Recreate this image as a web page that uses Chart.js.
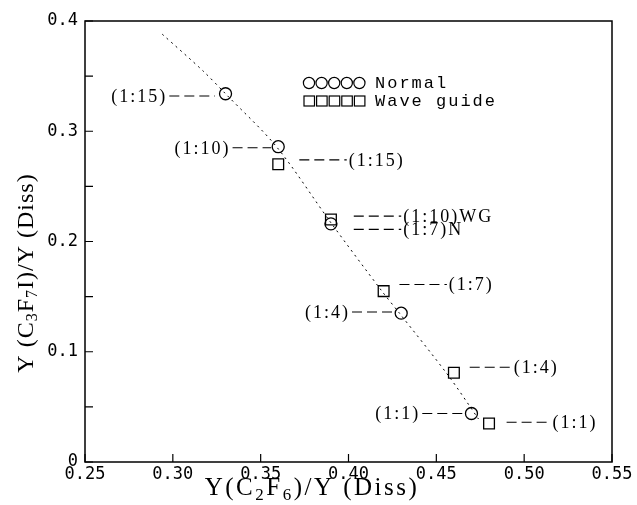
<!DOCTYPE html>
<html>
<head>
<meta charset="utf-8">
<script src="https://cdn.jsdelivr.net/npm/chart.js@4.4.1/dist/chart.umd.min.js"></script>
<style>
  html, body { margin: 0; padding: 0; background: #fff; }
  #wrap { width: 637px; height: 505px; }
</style>
</head>
<body>
<div id="wrap"><canvas id="chart"></canvas></div>
<script>
// ── data ─────────────────────────────────────────────
const xTickVals   = [0.25, 0.30, 0.35, 0.40, 0.45, 0.50, 0.55];
const xTickLabels = ['0.25', '0.30', '0.35', '0.40', '0.45', '0.50', '0.55'];
const yTickVals   = [0, 0.05, 0.1, 0.15, 0.2, 0.25, 0.3, 0.35, 0.4];
const yTickLabels = ['0', '', '0.1', '', '0.2', '', '0.3', '', '0.4'];

// Normal (circles)
const normalX      = [0.33, 0.36, 0.39, 0.43, 0.47];
const normalY      = [0.334, 0.286, 0.216, 0.135, 0.044];
const normalLabels = ['(1:15)', '(1:10)', '(1:7)N', '(1:4)', '(1:1)'];
const normalSide   = ['left', 'left', 'right', 'left', 'left'];
const normalLeadA  = [0.298, 0.334, 0.403, 0.402, 0.442];
const normalLeadB  = [0.324, 0.356, 0.430, 0.426, 0.467];
const normalTagY   = [0.332, 0.285, 0.211, 0.136, 0.044];

// Wave guide (squares)
const guideX      = [0.36, 0.39, 0.42, 0.46, 0.48];
const guideY      = [0.270, 0.220, 0.155, 0.081, 0.035];
const guideLabels = ['(1:15)', '(1:10)WG', '(1:7)', '(1:4)', '(1:1)'];
const guideSide   = ['right', 'right', 'right', 'right', 'right'];
const guideLeadA  = [0.372, 0.403, 0.429, 0.469, 0.490];
const guideLeadB  = [0.399, 0.430, 0.456, 0.493, 0.515];
const guideTagY   = [0.274, 0.223, 0.161, 0.086, 0.036];

// dotted guide curve
const fitX = [0.294, 0.317, 0.330, 0.359, 0.390, 0.419, 0.429, 0.457, 0.474];
const fitY = [0.388, 0.355, 0.334, 0.286, 0.217, 0.155, 0.135, 0.078, 0.039];

const legendNames = ['Normal', 'Wave guide'];
const xTitle = [['Y(C', 0], ['2', 1], ['F', 0], ['6', 1], [')/Y (Diss)', 0]];
const yTitle = [['Y (C', 0], ['3', 1], ['F', 0], ['7', 1], ['I)/Y (Diss)', 0]];

const pts = (xs, ys) => xs.map((x, i) => ({ x, y: ys[i] }));

// ── drawing helpers ───────────────────────────────
function richText(ctx, parts, x, y, size, spacing) {
  const big = size + 'px "Liberation Serif", "DejaVu Serif", serif';
  const small = Math.round(size * 0.68) + 'px "Liberation Serif", "DejaVu Serif", serif';
  ctx.letterSpacing = spacing + 'px';
  let w = 0;
  parts.forEach(([t, sub]) => { ctx.font = sub ? small : big; w += ctx.measureText(t).width; });
  let cx = x - w / 2;
  ctx.textAlign = 'left';
  ctx.textBaseline = 'alphabetic';
  parts.forEach(([t, sub]) => {
    ctx.font = sub ? small : big;
    ctx.fillText(t, cx, sub ? y + size * 0.18 : y);
    cx += ctx.measureText(t).width;
  });
  ctx.letterSpacing = '0px';
}

const paperPlugin = {
  id: 'paper',
  afterDraw(chart) {
    const { ctx, chartArea: a, scales: { x, y } } = chart;
    ctx.save();
    ctx.strokeStyle = '#000';
    ctx.fillStyle = '#000';

    // frame + inward ticks
    ctx.lineWidth = 1.5;
    ctx.strokeRect(a.left, a.top, a.right - a.left, a.bottom - a.top);
    ctx.lineWidth = 1.2;
    ctx.beginPath();
    xTickVals.forEach(v => {
      const px = x.getPixelForValue(v);
      ctx.moveTo(px, a.bottom); ctx.lineTo(px, a.bottom - 8);
    });
    yTickVals.forEach(v => {
      const py = y.getPixelForValue(v);
      ctx.moveTo(a.left, py); ctx.lineTo(a.left + 8, py);
    });
    ctx.stroke();

    // leaders + ratio labels
    const tags = (labels, side, la, lb, ty) => labels.forEach((txt, i) => {
      const x1 = x.getPixelForValue(la[i]);
      const x2 = x.getPixelForValue(lb[i]);
      const py = y.getPixelForValue(ty[i]);
      ctx.lineWidth = 1.1;
      ctx.setLineDash([10, 5]);
      ctx.beginPath(); ctx.moveTo(x1, py); ctx.lineTo(x2, py); ctx.stroke();
      ctx.setLineDash([]);
      ctx.font = '18px "Liberation Serif", serif';
      ctx.letterSpacing = '2px';
      ctx.textBaseline = 'middle';
      if (side[i] === 'left') { ctx.textAlign = 'right'; ctx.fillText(txt, x1 - 2, py + 1); }
      else { ctx.textAlign = 'left'; ctx.fillText(txt, x2 + 2, py + 1); }
      ctx.letterSpacing = '0px';
    });
    tags(normalLabels, normalSide, normalLeadA, normalLeadB, normalTagY);
    tags(guideLabels, guideSide, guideLeadA, guideLeadB, guideTagY);

    // legend
    const lx = a.left + 218, ly = a.top + 62;
    ctx.lineWidth = 1.2;
    for (let k = 0; k < 5; k++) {
      ctx.beginPath(); ctx.arc(lx + 6 + k * 12.6, ly, 5.6, 0, Math.PI * 2); ctx.stroke();
      ctx.strokeRect(lx + 1 + k * 12.6, ly + 18 - 5, 10.5, 10);
    }
    ctx.font = '17px "Liberation Mono", monospace';
    ctx.letterSpacing = '2px';
    ctx.textAlign = 'left';
    ctx.textBaseline = 'middle';
    ctx.fillText(legendNames[0], lx + 72, ly);
    ctx.fillText(legendNames[1], lx + 72, ly + 18);
    ctx.letterSpacing = '0px';

    // axis titles
    richText(ctx, xTitle, 312, 495, 25, 2.5);
    ctx.save();
    ctx.translate(33, 273);
    ctx.rotate(-Math.PI / 2);
    richText(ctx, yTitle, 0, 0, 24, 1);
    ctx.restore();

    ctx.restore();
  }
};

new Chart(document.getElementById('chart'), {
  type: 'scatter',
  data: {
    datasets: [
      { label: 'fit', data: pts(fitX, fitY), showLine: true, pointRadius: 0,
        borderColor: '#000', borderWidth: 1, borderDash: [2, 4], tension: 0.3, fill: false },
      { label: 'Normal', data: pts(normalX, normalY), pointStyle: 'circle', pointRadius: 6,
        borderColor: '#000', backgroundColor: 'rgba(0,0,0,0)', pointBorderWidth: 1.3 },
      { label: 'Wave guide', data: pts(guideX, guideY), pointStyle: 'rect', pointRadius: 7.6,
        borderColor: '#000', backgroundColor: 'rgba(0,0,0,0)', pointBorderWidth: 1.3 }
    ]
  },
  options: {
    responsive: true, maintainAspectRatio: false, animation: false,
    layout: { padding: { top: 21, right: 25, left: 0, bottom: 0 } },
    plugins: { legend: { display: false }, tooltip: { enabled: false } },
    scales: {
      x: {
        type: 'linear', min: 0.25, max: 0.55,
        grid: { display: false, drawTicks: false }, border: { display: false },
        afterBuildTicks: s => { s.ticks = xTickVals.map(v => ({ value: v })); },
        afterFit: s => { s.height = 43; },
        ticks: { color: '#000', padding: 2, maxRotation: 0, autoSkip: false,
          font: { family: '"DejaVu Sans Mono", monospace', size: 17 },
          callback: (v, i) => xTickLabels[i] }
      },
      y: {
        type: 'linear', min: 0, max: 0.4,
        grid: { display: false, drawTicks: false }, border: { display: false },
        afterBuildTicks: s => { s.ticks = yTickVals.map(v => ({ value: v })); },
        afterFit: s => { s.width = 85; },
        ticks: { color: '#000', padding: 7, autoSkip: false,
          font: { family: '"DejaVu Sans Mono", monospace', size: 17 },
          callback: (v, i) => yTickLabels[i] }
      }
    }
  },
  plugins: [paperPlugin]
});
</script>
</body>
</html>
